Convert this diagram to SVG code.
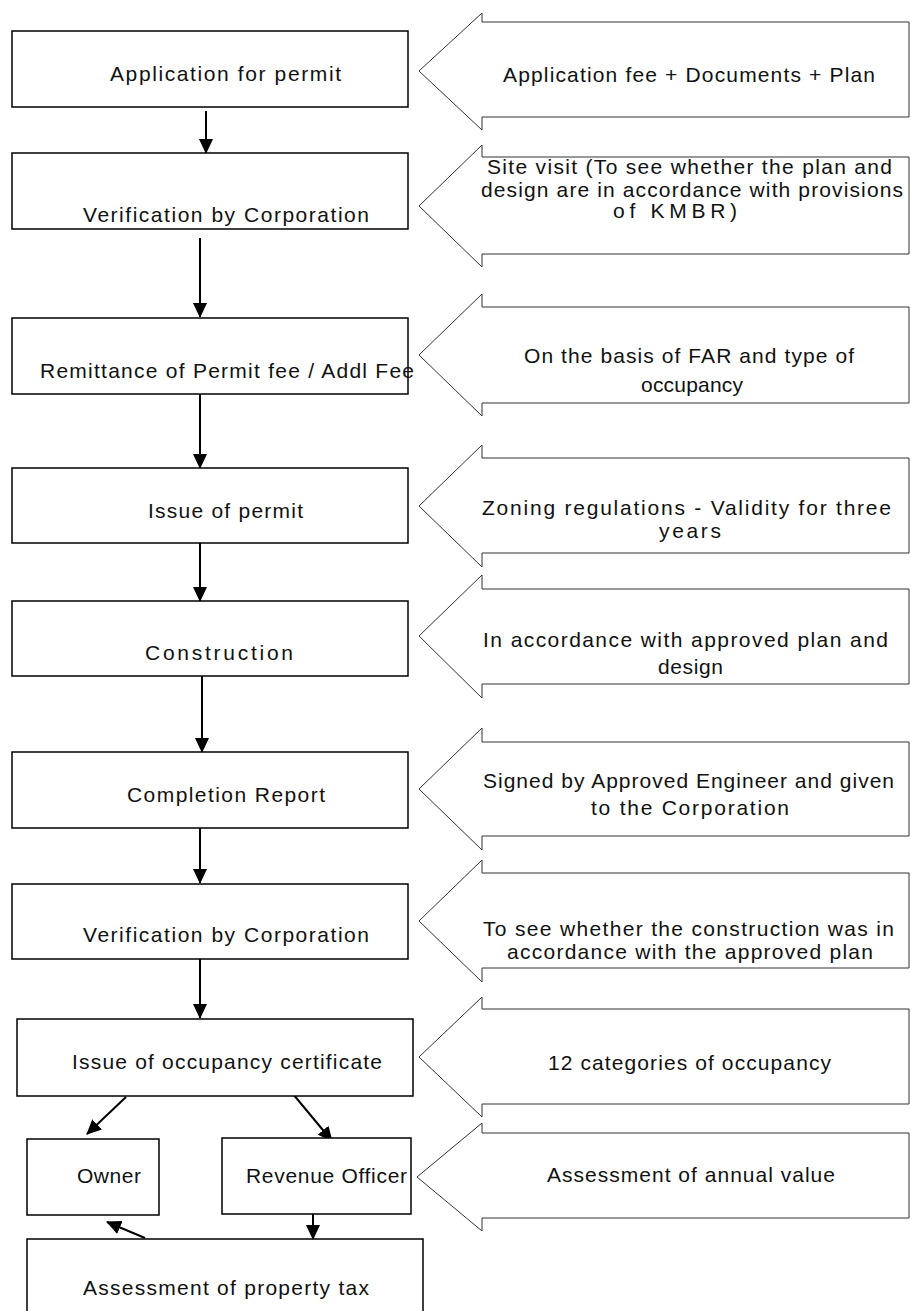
<svg xmlns="http://www.w3.org/2000/svg" width="910" height="1311" viewBox="0 0 910 1311">
<style>
.box{fill:#fff;stroke:#000;stroke-width:1.5}
.call{fill:#fff;stroke:#333;stroke-width:1}
.t{font-family:"Liberation Sans",Arial,sans-serif;font-size:21px;fill:#111}
.c{stroke:#000;stroke-width:2;fill:none;marker-end:url(#ah)}
</style>
<defs>
<marker id="ah" markerUnits="userSpaceOnUse" markerWidth="15" markerHeight="14" refX="14" refY="7" orient="auto">
<path d="M0,0 L15,7 L0,14 z" fill="#000"/>
</marker>
</defs>
<rect width="910" height="1311" fill="#fff"/>

<g id="connectors">
<line class="c" x1="206" y1="111" x2="206" y2="153"/>
<line class="c" x1="200" y1="238" x2="200" y2="317"/>
<line class="c" x1="200" y1="392" x2="200" y2="468"/>
<line class="c" x1="200" y1="540" x2="200" y2="601"/>
<line class="c" x1="202" y1="676" x2="202" y2="752"/>
<line class="c" x1="200" y1="823" x2="200" y2="883"/>
<line class="c" x1="200" y1="956" x2="200" y2="1018"/>
<line class="c" x1="126" y1="1097" x2="87" y2="1134"/>
<line class="c" x1="293" y1="1094" x2="332" y2="1141"/>
<line class="c" x1="313" y1="1214" x2="313" y2="1239"/>
<line class="c" x1="145" y1="1238" x2="107" y2="1222"/>
</g>

<g id="n1"><rect class="box" x="12" y="31" width="396" height="76"/><text class="t" x="110" y="81" textLength="231" lengthAdjust="spacing">Application for permit</text></g>
<g id="n2"><rect class="box" x="12" y="153" width="396" height="76"/><text class="t" x="83" y="222" textLength="286" lengthAdjust="spacing">Verification by Corporation</text></g>
<g id="n3"><rect class="box" x="12" y="318" width="396" height="76"/><text class="t" x="40" y="378" textLength="374" lengthAdjust="spacing">Remittance of Permit fee / Addl Fee</text></g>
<g id="n4"><rect class="box" x="12" y="468" width="396" height="75"/><text class="t" x="148" y="518" textLength="155" lengthAdjust="spacing">Issue of permit</text></g>
<g id="n5"><rect class="box" x="12" y="601" width="396" height="75"/><text class="t" x="145" y="660" textLength="148" lengthAdjust="spacing">Construction</text></g>
<g id="n6"><rect class="box" x="12" y="752" width="396" height="76"/><text class="t" x="127" y="802" textLength="198" lengthAdjust="spacing">Completion Report</text></g>
<g id="n7"><rect class="box" x="12" y="884" width="396" height="75"/><text class="t" x="83" y="942" textLength="286" lengthAdjust="spacing">Verification by Corporation</text></g>
<g id="n8"><rect class="box" x="17" y="1019" width="396" height="77"/><text class="t" x="72" y="1069" textLength="310" lengthAdjust="spacing">Issue of occupancy certificate</text></g>
<g id="n9"><rect class="box" x="27" y="1139" width="132" height="76"/><text class="t" x="77" y="1183" textLength="64" lengthAdjust="spacing">Owner</text></g>
<g id="n10"><rect class="box" x="222" y="1138" width="189" height="76"/><text class="t" x="246" y="1183" textLength="161" lengthAdjust="spacing">Revenue Officer</text></g>
<g id="n11"><rect class="box" x="27" y="1239" width="396" height="80"/><text class="t" x="83" y="1295" textLength="286" lengthAdjust="spacing">Assessment of property tax</text></g>

<g id="a1"><polygon class="call" points="419,71 482,13 482,22 909,22 909,117 482,117 482,130"/><text class="t" x="503" y="82" textLength="372" lengthAdjust="spacing">Application fee + Documents + Plan</text></g>
<g id="a2"><polygon class="call" points="419,206 482,145 482,157 909,157 909,254 482,254 482,267"/>
<text class="t" x="487" y="174" textLength="405" lengthAdjust="spacing">Site visit (To see whether the plan and</text>
<text class="t" x="481" y="197" textLength="422" lengthAdjust="spacing">design are in accordance with provisions</text>
<text class="t" x="613" y="218" textLength="124" lengthAdjust="spacing">of KMBR)</text></g>
<g id="a3"><polygon class="call" points="419,355 482,294 482,307 909,307 909,403 482,403 482,416"/>
<text class="t" x="524" y="363" textLength="330" lengthAdjust="spacing">On the basis of FAR and type of</text>
<text class="t" x="641" y="392" textLength="102" lengthAdjust="spacing">occupancy</text></g>
<g id="a4"><polygon class="call" points="419,506 482,445 482,458 909,458 909,553 482,553 482,567"/>
<text class="t" x="482" y="515" textLength="409" lengthAdjust="spacing">Zoning regulations - Validity for three</text>
<text class="t" x="659" y="538" textLength="62" lengthAdjust="spacing">years</text></g>
<g id="a5"><polygon class="call" points="419,636 482,575 482,589 909,589 909,684 482,684 482,698"/>
<text class="t" x="483" y="647" textLength="405" lengthAdjust="spacing">In accordance with approved plan and</text>
<text class="t" x="658" y="674" textLength="65" lengthAdjust="spacing">design</text></g>
<g id="a6"><polygon class="call" points="419,789 482,728 482,742 909,742 909,836 482,836 482,850"/>
<text class="t" x="483" y="788" textLength="411" lengthAdjust="spacing">Signed by Approved Engineer and given</text>
<text class="t" x="591" y="815" textLength="198" lengthAdjust="spacing">to the Corporation</text></g>
<g id="a7"><polygon class="call" points="419,921 482,860 482,873 909,873 909,968 482,968 482,982"/>
<text class="t" x="483" y="936" textLength="411" lengthAdjust="spacing">To see whether the construction was in</text>
<text class="t" x="507" y="959" textLength="366" lengthAdjust="spacing">accordance with the approved plan</text></g>
<g id="a8"><polygon class="call" points="419,1057 482,997 482,1009 909,1009 909,1104 482,1104 482,1117"/>
<text class="t" x="548" y="1070" textLength="283" lengthAdjust="spacing">12 categories of occupancy</text></g>
<g id="a9"><polygon class="call" points="417,1177 482,1123 482,1133 909,1133 909,1218 482,1218 482,1231"/>
<text class="t" x="547" y="1182" textLength="288" lengthAdjust="spacing">Assessment of annual value</text></g>
</svg>
